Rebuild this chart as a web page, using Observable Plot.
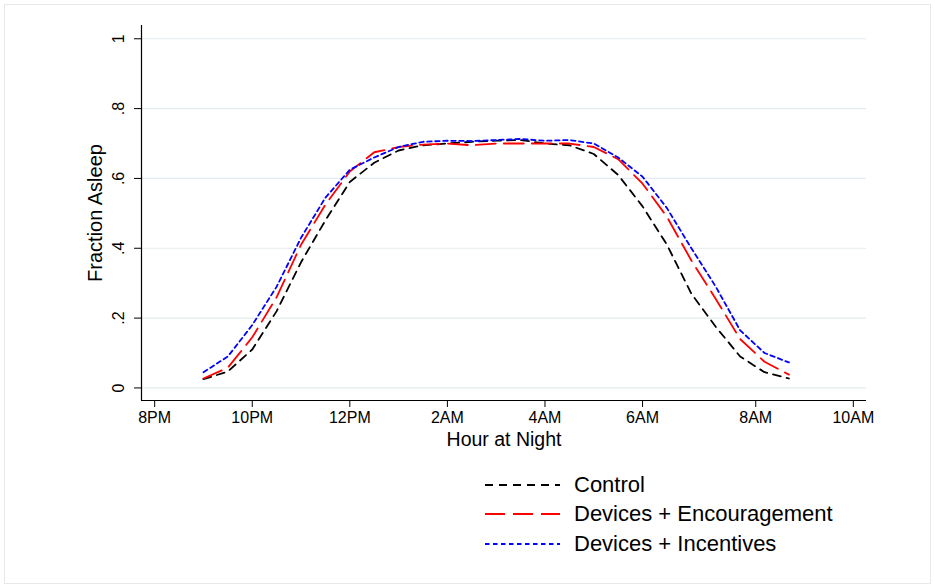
<!DOCTYPE html>
<html>
<head>
<meta charset="utf-8">
<script src="https://cdn.jsdelivr.net/npm/d3@7"></script>
<script src="https://cdn.jsdelivr.net/npm/@observablehq/plot@0.6"></script>
<style>
  body { margin: 0; background: #fff; font-family: "Liberation Sans", Arial, sans-serif; }
  #wrap { position: relative; width: 935px; height: 588px; overflow: hidden; }
  #border { position: absolute; left: 4px; top: 4px; width: 927px; height: 580px; border: 1px solid #e8e8e8; box-sizing: border-box; }
  #chart { position: absolute; left: 0; top: 0; }
  #legend { position: absolute; left: 485px; top: 470px; }
  .row { display: flex; align-items: center; height: 29.5px; font-size: 22px; color: #000; }
  .row svg { margin-right: 14px; }
</style>
</head>
<body>
<div id="wrap">
  <div id="border"></div>
  <div id="chart"></div>
  <div id="legend"></div>
</div>
<script>
// Hour of night (clock hours; 24 = midnight)
const hours = [21, 21.5, 22, 22.5, 23, 23.5, 24, 24.5, 25, 25.5, 26, 26.5, 27, 27.5, 28, 28.5, 29, 29.5, 30, 30.5, 31, 31.5, 32, 32.5, 33];
const control       = [0.025, 0.047, 0.11, 0.22, 0.36, 0.48, 0.59, 0.645, 0.68, 0.695, 0.70, 0.705, 0.708, 0.71, 0.70, 0.695, 0.67, 0.61, 0.52, 0.41, 0.27, 0.175, 0.09, 0.045, 0.027];
const encouragement = [0.027, 0.058, 0.145, 0.26, 0.41, 0.525, 0.62, 0.675, 0.69, 0.697, 0.70, 0.695, 0.70, 0.70, 0.70, 0.70, 0.69, 0.655, 0.585, 0.49, 0.365, 0.255, 0.14, 0.075, 0.038];
const incentives    = [0.045, 0.09, 0.18, 0.29, 0.43, 0.545, 0.625, 0.66, 0.69, 0.705, 0.708, 0.707, 0.71, 0.713, 0.708, 0.71, 0.70, 0.66, 0.605, 0.515, 0.40, 0.29, 0.165, 0.10, 0.073];

const seriesNames = ["Control", "Devices + Encouragement", "Devices + Incentives"];
const seriesColors = ["#000000", "#ff0000", "#0000ff"];
const seriesDash = ["8,6", "20,8", "4.5,3.5"];

const xTicks = [20, 22, 24, 26, 28, 30, 32.32, 34.32];
const xTickLabels = ["8PM", "10PM", "12PM", "2AM", "4AM", "6AM", "8AM", "10AM"];
const yTicks = [0, 0.2, 0.4, 0.6, 0.8, 1];
const yTickLabels = ["0", ".2", ".4", ".6", ".8", "1"];
const xTitle = "Hour at Night";
const yTitle = "Fraction Asleep";

const xDomain = [19.73, 34.59];
const yDomain = [-0.036, 1.038];

const allSeries = [control, encouragement, incentives];
const rows = [];
allSeries.forEach((vals, s) => vals.forEach((v, i) => rows.push({series: seriesNames[s], hour: hours[i], value: v})));

const chart = Plot.plot({
  width: 935,
  height: 460,
  marginTop: 25,
  marginBottom: 60,
  marginLeft: 141,
  marginRight: 69,
  style: {fontFamily: "Liberation Sans, Arial, sans-serif", background: "transparent", color: "#000"},
  x: {domain: xDomain},
  y: {domain: yDomain},
  marks: [
    Plot.gridY(yTicks, {stroke: "#e3ebee", strokeOpacity: 1, strokeWidth: 1.2}),
    Plot.ruleX([xDomain[0]], {stroke: "#000", strokeWidth: 1.2}),
    Plot.ruleY([yDomain[0]], {stroke: "#000", strokeWidth: 1.2}),
    Plot.axisX(xTicks, {tickSize: 7, tickPadding: 4, fontSize: 16, tickFormat: (d, i) => xTickLabels[i], label: null}),
    Plot.axisY(yTicks, {tickSize: 7, tickFormat: () => "", label: null}),
    Plot.text(yTicks, {y: d => d, text: (d, i) => yTickLabels[i], frameAnchor: "left", dx: -23, rotate: -90, textAnchor: "middle", lineAnchor: "middle", fontSize: 16, fill: "#000"}),
    Plot.text([xTitle], {text: d => d, frameAnchor: "bottom", dy: 39, textAnchor: "middle", lineAnchor: "middle", fontSize: 19.5, fill: "#000"}),
    Plot.text([yTitle], {text: d => d, frameAnchor: "left", dx: -46, rotate: -90, textAnchor: "middle", lineAnchor: "middle", fontSize: 20, fill: "#000"}),
    ...seriesNames.map((name, s) =>
      Plot.line(rows.filter(r => r.series === name), {x: "hour", y: "value", stroke: seriesColors[s], strokeWidth: 1.8, strokeDasharray: seriesDash[s], strokeLinejoin: "round"})
    )
  ]
});
document.getElementById("chart").appendChild(chart);

const legend = document.getElementById("legend");
seriesNames.forEach((name, s) => {
  const row = document.createElement("div");
  row.className = "row";
  row.innerHTML = `<svg width="75" height="6"><line x1="0" y1="3" x2="75" y2="3" stroke="${seriesColors[s]}" stroke-width="1.8" stroke-dasharray="${seriesDash[s]}"/></svg><span>${name}</span>`;
  legend.appendChild(row);
});
</script>
</body>
</html>
